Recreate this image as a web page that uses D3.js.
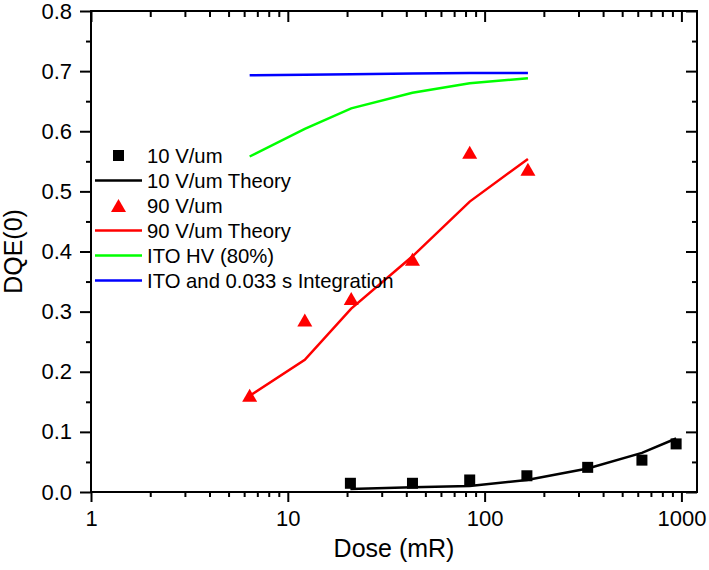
<!DOCTYPE html>
<html>
<head>
<meta charset="utf-8">
<script src="https://cdn.jsdelivr.net/npm/d3@7"></script>
<style>
  html, body { margin: 0; padding: 0; background: #fff; }
  svg { display: block; font-family: "Liberation Sans", Arial, sans-serif; }
</style>
</head>
<body>
<svg id="chart" width="709" height="570"></svg>
<script>
// ---- data ----
const dose90 = [6.4, 12.2, 21, 43, 84, 166];
const dqe90 = [0.161, 0.286, 0.322, 0.387, 0.565, 0.537];
const dqe90Theory = [0.16, 0.22, 0.305, 0.392, 0.483, 0.554];
const dqeItoHV = [0.558, 0.604, 0.638, 0.664, 0.680, 0.688];
const dqeItoInt = [0.693, 0.694, 0.695, 0.696, 0.697, 0.697];

const dose10 = [20.8, 43, 84, 164, 334, 630, 940];
const dqe10 = [0.0145, 0.0145, 0.020, 0.027, 0.041, 0.053, 0.080];
const dqe10Theory = [0.005, 0.0078, 0.010, 0.020, 0.039, 0.065, 0.089];

const xTicks = [1, 10, 100, 1000];
const yTicks = [0.0, 0.1, 0.2, 0.3, 0.4, 0.5, 0.6, 0.7, 0.8];
const legendLabels = ["10 V/um", "10 V/um Theory", "90 V/um", "90 V/um Theory", "ITO HV (80%)", "ITO and 0.033 s Integration"];

// ---- layout ----
const svg = d3.select("#chart");
const L = 91, R = 697, T = 11, B = 492;
const x = d3.scaleLog().domain([1, 1200]).range([L, R]);
const y = d3.scaleLinear().domain([0, 0.8]).range([B, T]);

const minorX = [];
for (let d = 1; d < 1200; d *= 10) for (let k = 2; k <= 9; k++) if (d * k < 1200) minorX.push(d * k);
const minorY = d3.range(0.05, 0.8, 0.1);

const tickFont = 22;
const legendFont = 20.3;

// bottom axis (outward)
const gB = svg.append("g").attr("transform", `translate(0,${B})`)
  .call(d3.axisBottom(x).tickValues(xTicks).tickFormat(d3.format("d")).tickSize(10).tickPadding(8));
gB.append("g").call(d3.axisBottom(x).tickValues(minorX).tickFormat("").tickSize(5));
// top axis (inward)
const gT = svg.append("g").attr("transform", `translate(0,${T})`)
  .call(d3.axisBottom(x).tickValues(xTicks).tickFormat("").tickSize(11));
gT.append("g").call(d3.axisBottom(x).tickValues(minorX).tickFormat("").tickSize(6));
// left axis (outward)
const gL = svg.append("g").attr("transform", `translate(${L},0)`)
  .call(d3.axisLeft(y).tickValues(yTicks).tickFormat(d3.format(".1f")).tickSize(11).tickPadding(8));
gL.append("g").call(d3.axisLeft(y).tickValues(minorY).tickFormat("").tickSize(5));
// right axis (inward)
const gR = svg.append("g").attr("transform", `translate(${R},0)`)
  .call(d3.axisLeft(y).tickValues(yTicks).tickFormat("").tickSize(11));
gR.append("g").call(d3.axisLeft(y).tickValues(minorY).tickFormat("").tickSize(5));

svg.selectAll(".domain").remove();
svg.selectAll(".tick line").attr("stroke", "#000").attr("stroke-width", 2);
svg.selectAll(".tick text").attr("font-size", tickFont).attr("fill", "#000")
  .attr("font-family", "Liberation Sans, Arial, sans-serif");

// frame
svg.append("rect").attr("x", L).attr("y", T).attr("width", R - L).attr("height", B - T)
  .attr("fill", "none").attr("stroke", "#000").attr("stroke-width", 2);

// axis titles
svg.append("text").attr("x", (L + R) / 2).attr("y", 557).attr("text-anchor", "middle")
  .attr("font-size", 25).text("Dose (mR)");
svg.append("text").attr("transform", `translate(22,${(T + B) / 2}) rotate(-90)`)
  .attr("text-anchor", "middle").attr("font-size", 25).text("DQE(0)");

// lines
const line = (xs, ys) => d3.line().x((d, i) => x(xs[i])).y(d => y(d))(ys);
const lw = 2.5;
svg.append("path").attr("d", line(dose90, dqeItoInt)).attr("fill", "none").attr("stroke", "#0000ff").attr("stroke-width", lw);
svg.append("path").attr("d", line(dose90, dqeItoHV)).attr("fill", "none").attr("stroke", "#00ff00").attr("stroke-width", lw);
svg.append("path").attr("d", line(dose90, dqe90Theory)).attr("fill", "none").attr("stroke", "#ff0000").attr("stroke-width", lw);
svg.append("path").attr("d", line(dose10, dqe10Theory)).attr("fill", "none").attr("stroke", "#000").attr("stroke-width", lw);

// markers
const tri = (w, h) => `M0,${-h / 2}L${w / 2},${h / 2}L${-w / 2},${h / 2}Z`;
svg.append("g").selectAll("path").data(dqe90).join("path")
  .attr("d", tri(15, 13))
  .attr("transform", (d, i) => `translate(${x(dose90[i])},${y(d)})`)
  .attr("fill", "#ff0000");
const sq = 11;
svg.append("g").selectAll("rect").data(dqe10).join("rect")
  .attr("x", (d, i) => x(dose10[i]) - sq / 2).attr("y", d => y(d) - sq / 2)
  .attr("width", sq).attr("height", sq).attr("fill", "#000");

// legend
const legendTypes = [
  { type: "square", color: "#000" },
  { type: "line", color: "#000" },
  { type: "triangle", color: "#ff0000" },
  { type: "line", color: "#ff0000" },
  { type: "line", color: "#00ff00" },
  { type: "line", color: "#0000ff" }
];
const leg = svg.append("g");
legendLabels.forEach((lab, i) => {
  const cy = 155.5 + i * 25;
  const t = legendTypes[i];
  if (t.type === "line") {
    leg.append("line").attr("x1", 95).attr("x2", 142).attr("y1", cy).attr("y2", cy)
      .attr("stroke", t.color).attr("stroke-width", lw);
  } else if (t.type === "square") {
    leg.append("rect").attr("x", 118.5 - sq / 2).attr("y", cy - sq / 2).attr("width", sq).attr("height", sq).attr("fill", t.color);
  } else {
    leg.append("path").attr("d", tri(15, 13)).attr("transform", `translate(118.5,${cy})`).attr("fill", t.color);
  }
  leg.append("text").attr("x", 147).attr("y", cy + 7).attr("font-size", legendFont).attr("fill", "#000").text(lab);
});
</script>
</body>
</html>
